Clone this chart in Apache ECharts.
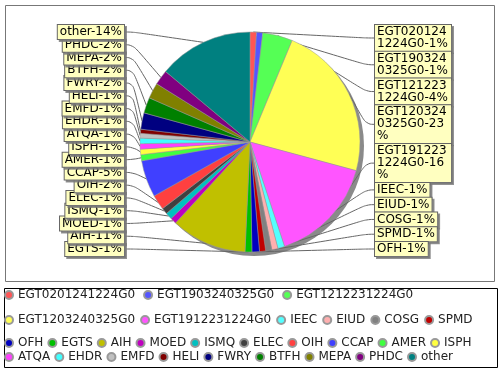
<!DOCTYPE html>
<html><head><meta charset="utf-8">
<script src="https://cdn.jsdelivr.net/npm/echarts@6/dist/echarts.min.js"></script>
<style>html,body{margin:0;padding:0;background:#fff}#c{width:500px;height:370px}</style>
</head><body><div id="c"></div>
<script>
const categories = ['EGT0201241224G0','EGT1903240325G0','EGT1212231224G0','EGT1203240325G0','EGT1912231224G0',
  'IEEC','EIUD','COSG','SPMD','OFH','EGTS','AIH','MOED','ISMQ','ELEC','OIH','CCAP','AMER','ISPH',
  'ATQA','EHDR','EMFD','HELI','FWRY','BTFH','MEPA','PHDC','other'];
const values = [0.95,0.9,4.4,22.9,15.7,
  1.0,0.9,0.9,0.9,1.1,1.0,11.1,0.9,1.0,0.9,2.2,5.4,0.9,0.8,
  0.8,0.8,0.7,0.6,2.4,2.3,2.3,2.2,13.9];
const colors = ['#FF5555','#5555FF','#55FF55','#FFFF55','#FF55FF','#55FFFF','#FFAFAF','#808080','#C00000','#0000C0',
  '#00C000','#C0C000','#C000C0','#00C0C0','#404040','#FF4040','#4040FF','#40FF40','#FFFF40','#FF40FF',
  '#40FFFF','#C0C0C0','#800000','#000080','#008000','#808000','#800080','#008080'];
const legendRows = [categories.slice(0,3), categories.slice(3,9), categories.slice(9,19), categories.slice(19)];
const legendTops = [288, 313, 336, 350];
const legendGaps = [8, 5, 4, 4];

const FONT = 'DejaVu Sans';
const CX = 250, CY = 142, R = 110;
const LABEL_TOP = 25, LABEL_BOTTOM = 258, LEFT_EDGE = 124, RIGHT_EDGE = 375;

// side of each label from the slice's mid angle
const total = values.reduce((a,b)=>a+b,0);
let acc = 0;
const isLeftSide = values.map(v => { const mid = (acc + v/2)/total; acc += v; return mid > 0.5; });
const leftOrder = categories.map((_,i)=>i).filter(i=>isLeftSide[i]).reverse();
const rightOrder = categories.map((_,i)=>i).filter(i=>!isLeftSide[i]);
const heights = {};
function stackTop(order, idx) {
  const hs = order.map(i => heights[i] || 14);
  const H = hs.reduce((a,b)=>a+b,0);
  const n = order.length;
  const o = n > 1 ? (H - (LABEL_BOTTOM - LABEL_TOP)) / (n - 1) : 0;
  let y = LABEL_TOP;
  for (let k = 0; k < n; k++) {
    if (order[k] === idx) return y;
    y += hs[k] - o;
  }
  return y;
}

const data = categories.map((n,i)=>{
  const item = {name:n, value:values[i], itemStyle:{color:colors[i]}};
  if (n.length > 10) item.label = {width:72, overflow:'breakAll'};
  return item;
});
const option = {
  animation:false,
  backgroundColor:'#fff',
  color: colors,
  legend: legendRows.map((row,i)=>({
    data: row, left:4, top: legendTops[i], padding:0, orient:'horizontal',
    icon:'circle', itemWidth:8, itemHeight:8, itemGap:legendGaps[i], selectedMode:false,
    textStyle:{fontFamily:FONT, fontSize:12, color:'#222', lineHeight:14}
  })),
  graphic:[
    {type:'rect', shape:{x:5.5,y:5.5,width:489,height:276}, style:{fill:null, stroke:'#777', lineWidth:1}, silent:true},
    {type:'rect', shape:{x:4.5,y:288.5,width:493,height:79}, style:{fill:null, stroke:'#000', lineWidth:1}, silent:true}
  ],
  series:[
    {type:'pie', center:[CX+4,CY+4], radius:R, silent:true, z:1,
     data:[{value:1, itemStyle:{color:'#8a8a8a'}}], label:{show:false}, labelLine:{show:false}},
    {type:'pie', center:[CX,CY], radius:R, startAngle:90, clockwise:true, z:2,
     avoidLabelOverlap:false, minShowLabelAngle:0,
     itemStyle:{borderColor:'#999', borderWidth:0.5},
     label:{show:true, position:'outside',
       formatter: p => p.name + '-' + Math.round(p.percent) + '%',
       fontFamily:FONT, fontSize:12, color:'#000', lineHeight:12,
       backgroundColor:'#FFFFC0', borderColor:'#666', borderWidth:1, padding:[1,2],
       shadowColor:'rgba(120,120,120,0.8)', shadowOffsetX:2, shadowOffsetY:2, shadowBlur:0},
     labelLine:{show:true, length:14, length2:8, smooth:0.5, lineStyle:{color:'#666', width:1}},
     labelLayout: function (p) {
       const idx = p.dataIndex;
       heights[idx] = p.labelRect.height;
       const left = isLeftSide[idx];
       const y = stackTop(left ? leftOrder : rightOrder, idx);
       return {x: left ? LEFT_EDGE : RIGHT_EDGE, y: y, align: left ? 'right' : 'left', verticalAlign:'top'};
     },
     emphasis:{disabled:true},
     data:data}
  ]
};
const chart = echarts.init(document.getElementById('c'), null, {renderer:'canvas'});
chart.setOption(option);
chart.setOption(option, true);
</script></body></html>
